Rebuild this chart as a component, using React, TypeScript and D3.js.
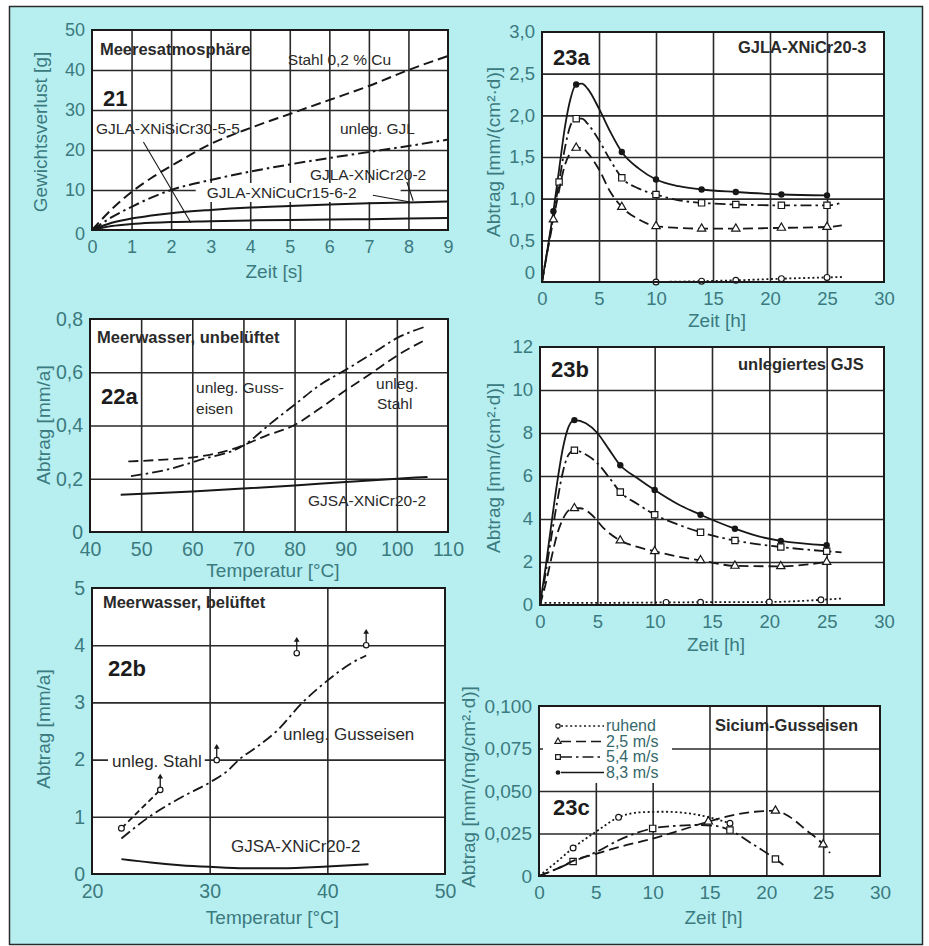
import React, { useEffect, useRef } from 'react';
import * as d3 from 'd3';

type Pt = [number, number];

const W = 929;
const H = 946;
const FONT = "'Liberation Sans', Arial, Helvetica, sans-serif";
const PAGE = '#b7eff1';
const TEAL = '#3b7a7e';
const INK = '#171717';
const GRID = '#2a2a2a';

// ---------- Bild 21: Meeresatmosphäre ----------
const zeit21 = [0, 0.5, 1, 1.5, 2, 3, 4, 5, 6, 7, 8, 9];
const stahlCu21 = [0, 5.2, 9.5, 13, 16, 21.5, 25.5, 29, 32.5, 36, 40, 43.5];
const gjl21 = [0, 3.2, 5.8, 8.1, 10, 12.5, 14.6, 16.4, 18, 19.5, 21, 22.6];
const niCuCr21 = [0, 1.8, 2.9, 3.6, 4.2, 5.0, 5.6, 6.0, 6.4, 6.7, 6.9, 7.1];
const niCr21 = [0, 1.0, 1.5, 1.8, 2.0, 2.2, 2.4, 2.5, 2.6, 2.7, 2.85, 3.0];
const xTicks21 = [0, 1, 2, 3, 4, 5, 6, 7, 8, 9];
const yTicks21 = [0, 10, 20, 30, 40, 50];

// ---------- Bild 22a: Meerwasser, unbelüftet ----------
const gussDashDot22a: Pt[] = [[48, 0.21], [55, 0.234], [61.5, 0.271], [70, 0.325], [75.8, 0.415], [80, 0.478], [85, 0.553], [90, 0.609], [95, 0.668], [100, 0.728], [105.5, 0.771]];
const stahlDash22a: Pt[] = [[47.5, 0.265], [53.7, 0.271], [61.5, 0.284], [68, 0.312], [74.5, 0.362], [80, 0.402], [85, 0.465], [90, 0.532], [95, 0.596], [100, 0.662], [105.5, 0.721]];
const niCr22a: Pt[] = [[46, 0.14], [60, 0.152], [70, 0.163], [80, 0.175], [90, 0.188], [100, 0.2], [106, 0.207]];
const xTicks22a = [40, 50, 60, 70, 80, 90, 100, 110];
const yTicks22a = [0, 0.2, 0.4, 0.6, 0.8];
const yLabels22a = ['0', '0,2', '0,4', '0,6', '0,8'];

// ---------- Bild 22b: Meerwasser, belüftet ----------
const guss22b: Pt[] = [[22.5, 0.62], [25, 1.02], [27.5, 1.33], [30, 1.6], [31.5, 1.8], [32.5, 2.0], [34, 2.22], [35.7, 2.5], [37.9, 3.0], [40, 3.38], [42, 3.68], [43.3, 3.82]];
const stahl22b: Pt[] = [[22.5, 0.8], [25.8, 1.47]];
const stahlUp22b: Pt[] = [[25.8, 1.47], [30.6, 1.99], [37.4, 3.86], [43.3, 4.0]];
const niCr22b: Pt[] = [[22.5, 0.26], [25, 0.2], [27.5, 0.155], [30, 0.125], [33, 0.1], [36, 0.1], [40, 0.13], [43.5, 0.17]];
const xTicks22b = [20, 30, 40, 50];
const yTicks22b = [0, 1, 2, 3, 4, 5];

// ---------- Bild 23a: GJLA-XNiCr20-3 ----------
const fast23a: Pt[] = [[0, 0], [1, 0.85], [1.5, 1.35], [2, 1.85], [2.5, 2.2], [3, 2.37], [3.5, 2.38], [4, 2.32], [5, 2.08], [6, 1.8], [7, 1.56], [8.5, 1.36], [10, 1.23], [12, 1.15], [14, 1.11], [17, 1.08], [21, 1.05], [25, 1.04]];
const mid23a: Pt[] = [[0, 0], [1, 0.8], [1.5, 1.2], [2, 1.6], [2.5, 1.88], [3, 1.96], [3.5, 1.96], [4, 1.9], [5, 1.7], [6, 1.46], [7, 1.25], [8.5, 1.12], [10, 1.05], [12, 0.98], [14, 0.95], [17, 0.93], [21, 0.92], [25, 0.92], [26.3, 0.95]];
const slow23a: Pt[] = [[0, 0], [1, 0.75], [1.5, 1.1], [2, 1.4], [2.5, 1.55], [3, 1.61], [3.5, 1.61], [4, 1.55], [5, 1.35], [6, 1.08], [7, 0.9], [8.5, 0.75], [10, 0.67], [12, 0.65], [14, 0.64], [17, 0.64], [21, 0.65], [25, 0.66], [26.3, 0.68]];
const still23a: Pt[] = [[10, 0.0], [14, 0.01], [17, 0.02], [21, 0.04], [25, 0.055], [26.3, 0.06]];

// ---------- Bild 23b: unlegiertes GJS ----------
const fast23b: Pt[] = [[0, 0], [0.5, 1.8], [1, 3.8], [1.5, 5.7], [2, 7.3], [2.5, 8.3], [3, 8.6], [4, 8.45], [5, 8.0], [6, 7.25], [7, 6.5], [8.5, 5.9], [10, 5.35], [12, 4.7], [14, 4.2], [17, 3.55], [19, 3.2], [21, 2.98], [25, 2.78]];
const mid23b: Pt[] = [[0, 0], [0.5, 1.5], [1, 3.2], [1.5, 4.8], [2, 6.2], [2.5, 7.0], [3, 7.2], [4, 7.0], [5, 6.6], [6, 5.95], [7, 5.25], [8.5, 4.7], [10, 4.2], [12, 3.75], [14, 3.38], [17, 3.0], [21, 2.7], [25, 2.5], [26.3, 2.45]];
const slow23b: Pt[] = [[0, 0], [0.5, 1.0], [1, 2.2], [1.5, 3.3], [2, 4.0], [2.5, 4.4], [3, 4.5], [3.5, 4.5], [4.5, 4.2], [5.5, 3.6], [7, 3.0], [8.5, 2.7], [10, 2.5], [12, 2.25], [14, 2.08], [17, 1.82], [21, 1.8], [25, 2.0]];
const still23b: Pt[] = [[0, 0.1], [5, 0.1], [11, 0.12], [14, 0.13], [20, 0.14], [24.5, 0.24], [26.3, 0.3]];

// ---------- Bild 23c: Silicium-Gusseisen ----------
const still23c: Pt[] = [[0, 0], [1.5, 0.008], [3, 0.0165], [5, 0.026], [7, 0.0345], [9, 0.0375], [11, 0.0378], [13, 0.037], [15, 0.0345], [16.8, 0.031]];
const mid23c: Pt[] = [[0, 0], [1.5, 0.004], [3, 0.0085], [5, 0.014], [7, 0.021], [10, 0.028], [12, 0.0295], [14, 0.03], [15.5, 0.0295], [16.8, 0.027], [18.5, 0.02], [20.8, 0.01], [21.5, 0.0065]];
const slow23c: Pt[] = [[0, 0], [1.5, 0.004], [3.2, 0.0095], [5, 0.013], [7, 0.017], [10, 0.022], [12.5, 0.027], [14.9, 0.032], [17.2, 0.036], [19, 0.0378], [20.8, 0.0384], [22, 0.035], [23.5, 0.027], [25, 0.0185], [25.6, 0.0135]];
const legend23c = ['ruhend', '2,5 m/s', '5,4 m/s', '8,3 m/s'];

const xTicks23 = [0, 5, 10, 15, 20, 25, 30];
const yTicks23a = [0, 0.5, 1, 1.5, 2, 2.5, 3];
const yLabels23a = ['0', '0,5', '1,0', '1,5', '2,0', '2,5', '3,0'];
const yTicks23b = [0, 2, 4, 6, 8, 10, 12];
const yTicks23c = [0, 0.025, 0.05, 0.075, 0.1];
const yLabels23c = ['0', '0,025', '0,050', '0,075', '0,100'];

const marks23 = [3, 7, 10, 14, 17, 21, 25];

const DASH: Record<string, string | null> = {
  solid: null,
  dash: '10,5',
  shortdash: '6,3.5',
  dashdot: '11,4,2.5,4',
  dot: '2,2.6',
};

const zip = (xs: number[], ys: number[]): Pt[] => xs.map((v, i) => [v, ys[i]]);
const inner = (t: number[]) => t.slice(1, -1);

const panels: any[] = [
  {
    box: [92, 30, 448, 230], xDom: [0, 9], yDom: [0, 50],
    xTicks: xTicks21, yTicks: yTicks21, xGrid: inner(xTicks21), yGrid: inner(yTicks21),
    tickSize: 18, zeroDy: 4,
    xTitle: 'Zeit [s]', xTitleY: 278, yTitle: 'Gewichtsverlust [g]', yTitlePos: [40, 132],
    series: [
      { pts: zip(zeit21, stahlCu21), style: 'dash', width: 2 },
      { pts: zip(zeit21, gjl21), style: 'dashdot', width: 2 },
      { pts: zip(zeit21, niCuCr21), style: 'solid', width: 2 },
      { pts: zip(zeit21, niCr21), style: 'solid', width: 2 },
    ],
    leaders: [[[1.3, 22], [2.5, 1.8]], [[7.96, 12], [8.12, 7.3]], [[7.1, 8.7], [8.04, 7.0]]],
    labels: [
      { at: [0.2, 43.7], text: 'Meeresatmosphäre', bold: true, size: 16.5 },
      { at: [4.95, 41.2], text: 'Stahl 0,2 % Cu' },
      { at: [0.28, 31], text: '21', num: true },
      { at: [0.1, 24], text: 'GJLA-XNiSiCr30-5-5' },
      { at: [6.27, 24], text: 'unleg. GJL' },
      { at: [5.51, 12.5], text: 'GJLA-XNiCr20-2' },
      { at: [2.9, 8], text: 'GJLA-XNiCuCr15-6-2', bg: [11, 44] },
    ],
  },
  {
    box: [90, 319, 448, 532], xDom: [40, 110], yDom: [0, 0.8],
    xTicks: xTicks22a, yTicks: yTicks22a, yLabels: yLabels22a, xGrid: inner(xTicks22a), yGrid: inner(yTicks22a),
    tickSize: 19.5,
    xTitle: 'Temperatur [°C]', xTitleY: 577, yTitle: 'Abtrag [mm/a]', yTitlePos: [43, 425],
    series: [
      { pts: gussDashDot22a, style: 'dashdot' },
      { pts: stahlDash22a, style: 'dash' },
      { pts: niCr22a, style: 'solid', width: 2 },
    ],
    labels: [
      { at: [41.37, 0.709], text: 'Meerwasser, unbelüftet', bold: true },
      { at: [42.15, 0.481], text: '22a', num: true },
      { at: [60.73, 0.522], text: 'unleg. Guss-' },
      { at: [60.73, 0.443], text: 'eisen' },
      { at: [95.93, 0.537], text: 'unleg.' },
      { at: [96.12, 0.462], text: 'Stahl' },
      { at: [82.63, 0.098], text: 'GJSA-XNiCr20-2' },
    ],
  },
  {
    box: [92, 588, 445, 874], xDom: [20, 50], yDom: [0, 5],
    xTicks: xTicks22b, yTicks: yTicks22b, xGrid: inner(xTicks22b), yGrid: inner(yTicks22b),
    tickSize: 19.5,
    xTitle: 'Temperatur [°C]', xTitleY: 924, yTitle: 'Abtrag [mm/a]', yTitlePos: [43, 729],
    series: [
      { pts: guss22b, style: 'dashdot' },
      { pts: stahl22b, style: 'shortdash', marker: 'circle', markAt: [22.5] },
      { pts: stahlUp22b, style: 'none', marker: 'arrow', markAt: stahlUp22b.map((d) => d[0]) },
      { pts: niCr22b, style: 'solid', width: 2 },
    ],
    labels: [
      { at: [20.93, 4.65], text: 'Meerwasser, belüftet', bold: true },
      { at: [21.36, 3.46], text: '22b', num: true },
      { at: [21.7, 1.87], text: 'unleg. Stahl', size: 17, bg: [4, 3] },
      { at: [36.23, 2.34], text: 'unleg. Gusseisen', size: 17 },
      { at: [31.81, 0.385], text: 'GJSA-XNiCr20-2', size: 17 },
    ],
  },
  {
    box: [542, 32, 884, 282], xDom: [0, 30], yDom: [0, 3],
    xTicks: xTicks23, yTicks: yTicks23a, yLabels: yLabels23a, xGrid: inner(xTicks23), yGrid: inner(yTicks23a),
    tickSize: 18.5, zeroDy: -9,
    xTitle: 'Zeit [h]', xTitleY: 327, yTitle: 'Abtrag [mm/(cm²·d)]', yTitlePos: [493, 152],
    series: [
      { pts: fast23a, style: 'solid', marker: 'dot', markAt: [1, ...marks23] },
      { pts: mid23a, style: 'dashdot', marker: 'square', markAt: [1.5, ...marks23] },
      { pts: slow23a, style: 'dash', marker: 'tri', markAt: [1, ...marks23] },
      { pts: still23a, style: 'dot', marker: 'circle', markAt: [10, 14, 17, 21, 25] },
    ],
    labels: [
      { at: [0.96, 2.604], text: '23a', num: true },
      { at: [17.19, 2.748], text: 'GJLA-XNiCr20-3', bold: true },
    ],
  },
  {
    box: [540, 347, 884, 605], xDom: [0, 30], yDom: [0, 12],
    xTicks: xTicks23, yTicks: yTicks23b, xGrid: inner(xTicks23), yGrid: inner(yTicks23b),
    tickSize: 18.5,
    xTitle: 'Zeit [h]', xTitleY: 651, yTitle: 'Abtrag [mm/(cm²·d)]', yTitlePos: [493, 468],
    series: [
      { pts: fast23b, style: 'solid', marker: 'dot', markAt: marks23 },
      { pts: mid23b, style: 'dashdot', marker: 'square', markAt: marks23 },
      { pts: slow23b, style: 'dash', marker: 'tri', markAt: marks23 },
      { pts: still23b, style: 'dot', marker: 'circle', markAt: [11, 14, 20, 24.5] },
    ],
    labels: [
      { at: [0.96, 10.6], text: '23b', num: true },
      { at: [17.27, 10.93], text: 'unlegiertes GJS', bold: true },
    ],
  },
  {
    box: [539, 706, 880, 876], xDom: [0, 30], yDom: [0, 0.1],
    xTicks: xTicks23, yTicks: yTicks23c, yLabels: yLabels23c, xGrid: inner(xTicks23), yGrid: inner(yTicks23c),
    tickSize: 19,
    xTitle: 'Zeit [h]', xTitleY: 924, yTitle: 'Abtrag [mm/(mg/cm²·d)]', yTitlePos: [468, 787],
    series: [
      { pts: still23c, style: 'dot', marker: 'circle', markAt: [3, 7, 16.8] },
      { pts: mid23c, style: 'dashdot', marker: 'square', markAt: [3, 10, 16.8, 20.8] },
      { pts: slow23c, style: 'dash', marker: 'tri', markAt: [14.9, 20.8, 25] },
    ],
    legend: {
      box: [543, 707, 129, 76],
      rows: [
        { text: legend23c[0], style: 'dot', marker: 'circle' },
        { text: legend23c[1], style: 'dash', marker: 'tri' },
        { text: legend23c[2], style: 'dashdot', marker: 'square' },
        { text: legend23c[3], style: 'solid', marker: 'dot' },
      ],
    },
    labels: [
      { at: [1.23, 0.0359], text: '23c', num: true },
      { at: [15.48, 0.0853], text: 'Sicium-Gusseisen', bold: true },
    ],
  },
];

function drawMarkers(g: any, xy: Pt[], kind: string, k = 1) {
  xy.forEach(([cx, cy]) => {
    if (kind === 'dot') {
      g.append('circle').attr('cx', cx).attr('cy', cy).attr('r', 3.2 * Math.sqrt(k)).attr('fill', INK);
    } else if (kind === 'circle') {
      g.append('circle').attr('cx', cx).attr('cy', cy).attr('r', 2.9 * Math.sqrt(k)).attr('fill', '#fff').attr('stroke', INK).attr('stroke-width', 1.2);
    } else if (kind === 'square') {
      g.append('path').attr('d', d3.symbol(d3.symbolSquare, 40 * k)()).attr('transform', `translate(${cx},${cy})`)
        .attr('fill', '#fff').attr('stroke', INK).attr('stroke-width', 1.2);
    } else if (kind === 'tri') {
      g.append('path').attr('d', d3.symbol(d3.symbolTriangle, 30 * k)()).attr('transform', `translate(${cx},${cy})`)
        .attr('fill', '#fff').attr('stroke', INK).attr('stroke-width', 1.2);
    } else if (kind === 'arrow') {
      g.append('line').attr('x1', cx).attr('x2', cx).attr('y1', cy - 3).attr('y2', cy - 13).attr('stroke', INK).attr('stroke-width', 1.3);
      g.append('path').attr('d', d3.symbol(d3.symbolTriangle, 14)()).attr('transform', `translate(${cx},${cy - 13})`).attr('fill', INK);
      g.append('circle').attr('cx', cx).attr('cy', cy).attr('r', 2.7).attr('fill', '#fff').attr('stroke', INK).attr('stroke-width', 1.2);
    }
  });
}

function drawPanel(root: any, p: any) {
  const [L, T, R, B] = p.box;
  const x = d3.scaleLinear().domain(p.xDom).range([L, R]);
  const y = d3.scaleLinear().domain(p.yDom).range([B, T]);
  const g = root.append('g');
  const gBg = g.append('g');
  const gGrid = g.append('g');
  const gMask = g.append('g');
  const gCurve = g.append('g');
  const gFrame = g.append('g');
  const gText = g.append('g');

  gBg.append('rect').attr('x', L).attr('y', T).attr('width', R - L).attr('height', B - T).attr('fill', '#fff');

  // Gitter
  gGrid.append('g').attr('transform', `translate(0,${B})`)
    .call(d3.axisBottom(x).tickValues(p.xGrid).tickSize(-(B - T)).tickFormat(() => ''));
  gGrid.append('g').attr('transform', `translate(${L},0)`)
    .call(d3.axisLeft(y).tickValues(p.yGrid).tickSize(-(R - L)).tickFormat(() => ''));
  gGrid.selectAll('.domain').remove();
  gGrid.selectAll('line').attr('stroke', GRID).attr('stroke-width', 1.6);

  // Achsbeschriftung
  const xa = gText.append('g').attr('transform', `translate(0,${B})`)
    .call(d3.axisBottom(x).tickValues(p.xTicks).tickSize(0).tickPadding(10)
      .tickFormat((d: any, i: number) => (p.xLabels ? p.xLabels[i] : String(d))));
  const ya = gText.append('g').attr('transform', `translate(${L},0)`)
    .call(d3.axisLeft(y).tickValues(p.yTicks).tickSize(0).tickPadding(7)
      .tickFormat((d: any, i: number) => (p.yLabels ? p.yLabels[i] : String(d))));
  [xa, ya].forEach((a) => {
    a.select('.domain').remove();
    a.attr('font-size', p.tickSize).attr('font-family', FONT);
    a.selectAll('text').attr('fill', TEAL);
  });
  if (p.zeroDy) {
    ya.selectAll('text').filter((d: any) => d === 0).attr('transform', `translate(0,${p.zeroDy})`);
  }

  gText.append('text').attr('x', (L + R) / 2 + 4).attr('y', p.xTitleY).attr('text-anchor', 'middle')
    .attr('font-family', FONT).attr('font-size', 19).attr('fill', TEAL).text(p.xTitle);
  gText.append('text').attr('transform', `translate(${p.yTitlePos[0]},${p.yTitlePos[1]}) rotate(-90)`)
    .attr('text-anchor', 'middle').attr('dy', '0.35em')
    .attr('font-family', FONT).attr('font-size', 19).attr('fill', TEAL).text(p.yTitle);

  // Beschriftungen im Diagramm
  (p.labels || []).forEach((lb: any) => {
    const t = gText.append('text').attr('x', x(lb.at[0])).attr('y', y(lb.at[1])).attr('font-family', FONT)
      .attr('font-size', lb.num ? 22 : lb.size || (lb.bold ? 16.5 : 15.5))
      .attr('font-weight', lb.bold || lb.num ? 'bold' : 'normal')
      .attr('fill', lb.num ? '#1c1c1c' : '#2a2a2a').text(lb.text);
    if (lb.bg) {
      const bb = (t.node() as SVGTextElement).getBBox();
      gMask.append('rect').attr('x', bb.x - lb.bg[0]).attr('y', bb.y - 1)
        .attr('width', bb.width + lb.bg[0] + lb.bg[1]).attr('height', bb.height + 2).attr('fill', '#fff');
    }
  });

  // Hinweislinien
  const straight = d3.line<Pt>().x((d) => x(d[0])).y((d) => y(d[1]));
  (p.leaders || []).forEach((ld: Pt[]) => {
    gCurve.append('path').attr('d', straight(ld)).attr('fill', 'none').attr('stroke', INK).attr('stroke-width', 1.1);
  });

  // Kurven
  const line = d3.line<Pt>().x((d) => x(d[0])).y((d) => y(d[1])).curve(d3.curveMonotoneX);
  p.series.forEach((s: any) => {
    if (s.style !== 'none') {
      gCurve.append('path').attr('d', line(s.pts)).attr('fill', 'none').attr('stroke', INK)
        .attr('stroke-width', s.width || 1.8).attr('stroke-dasharray', DASH[s.style]);
    }
    if (s.marker) {
      const pts = s.pts.filter((d: Pt) => s.markAt.includes(d[0]));
      drawMarkers(gCurve, pts.map((d: Pt) => [x(d[0]), y(d[1])] as Pt), s.marker);
    }
  });

  // Legende
  if (p.legend) {
    const [lx, ly, lw, lh] = p.legend.box;
    gMask.append('rect').attr('x', lx).attr('y', ly).attr('width', lw).attr('height', lh).attr('fill', '#fff');
    p.legend.rows.forEach((r: any, i: number) => {
      const by = ly + 24 + i * 15.5;
      const my = by - 5;
      gText.append('line').attr('x1', lx + 18).attr('x2', lx + 61).attr('y1', my).attr('y2', my)
        .attr('stroke', INK).attr('stroke-width', 1.6).attr('stroke-dasharray', DASH[r.style]);
      drawMarkers(gText, [[lx + 15, my]], r.marker, 0.55);
      gText.append('text').attr('x', lx + 63).attr('y', by).attr('font-family', FONT).attr('font-size', 16)
        .attr('fill', '#35686b').text(r.text);
    });
  }

  gFrame.append('rect').attr('x', L).attr('y', T).attr('width', R - L).attr('height', B - T)
    .attr('fill', 'none').attr('stroke', '#1a1a1a').attr('stroke-width', 2);
}

export default function App() {
  const ref = useRef<SVGSVGElement>(null);

  useEffect(() => {
    const svg = d3.select(ref.current);
    svg.selectAll('*').remove();
    svg.append('rect').attr('width', W).attr('height', H).attr('fill', '#fff');
    svg.append('rect').attr('x', 9.5).attr('y', 6.5).attr('width', 913).attr('height', 938)
      .attr('fill', PAGE).attr('stroke', '#2a2a2a').attr('stroke-width', 1.5);
    panels.forEach((p) => drawPanel(svg, p));
  }, []);

  return <svg ref={ref} width={W} height={H} style={{ position: 'absolute', left: 0, top: 0 }} />;
}
